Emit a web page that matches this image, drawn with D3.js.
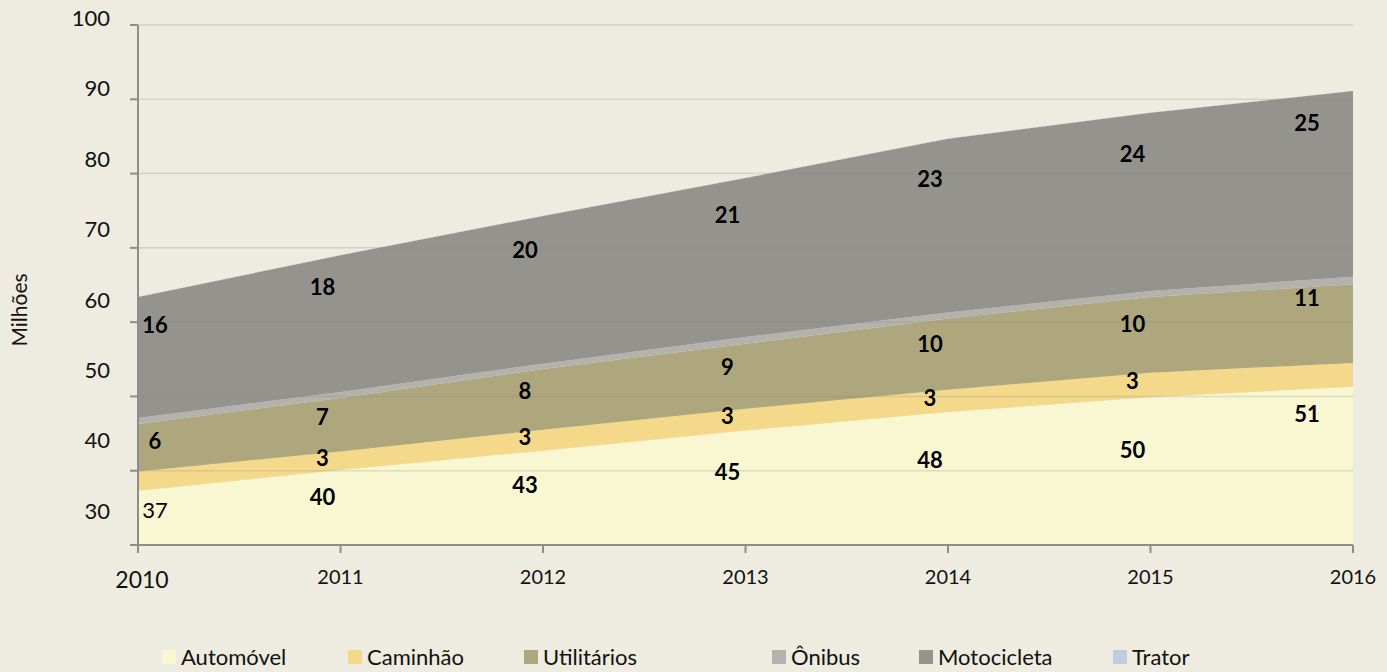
<!DOCTYPE html>
<html>
<head>
<meta charset="utf-8">
<script src="https://cdn.jsdelivr.net/npm/d3@7"></script>
<style>
  body { margin: 0; background: #eeebe0; }
  svg { display: block; font-family: Lato, "Open Sans", sans-serif; }
</style>
</head>
<body>
<svg id="chart" width="1387" height="672"></svg>
<script>
// values in millions
const years = [2010, 2011, 2012, 2013, 2014, 2015, 2016];
const automovel   = [37.3, 40.1, 42.7, 45.4, 47.9, 49.9, 51.3];
const caminhao    = [2.6, 2.5, 2.8, 2.95, 3.0, 3.3, 3.2];
const utilitarios = [6.4, 7.2, 8.2, 8.75, 9.6, 10.2, 10.6];
const onibus      = [0.8, 0.8, 0.7, 0.9, 0.8, 0.8, 1.0];
const motocicleta = [16.3, 18.4, 19.9, 21.4, 23.4, 24.0, 25.0];
const trator      = [0.03, 0.03, 0.03, 0.03, 0.03, 0.03, 0.03];

const seriesNames = ["Automóvel", "Caminhão", "Utilitários", "Ônibus", "Motocicleta", "Trator"];
const seriesValues = [automovel, caminhao, utilitarios, onibus, motocicleta, trator];
const yTicks = [100, 90, 80, 70, 60, 50, 40, 30];

// series that carry data labels, and labels left out of the original
const labelled = ["Automóvel", "Caminhão", "Utilitários", "Motocicleta"];
const hiddenLabels = ["Caminhão-2010", "Caminhão-2016"];

const colors = {
    "Automóvel": "#f8f7d1",
    "Caminhão": "#f5d98b",
    "Utilitários": "#aea67d",
    "Ônibus": "#b3b2ae",
    "Motocicleta": "#95938e",
    "Trator": "#c2cce0"
};

const svg = d3.select("#chart");
const plotLeft = 138, plotRight = 1353, plotTop = 25, plotBottom = 545;

const table = years.map((year, i) => {
    const row = { year };
    seriesNames.forEach((name, j) => { row[name] = seriesValues[j][i]; });
    return row;
});

const stacked = d3.stack().keys(seriesNames)(table);

const x = d3.scaleLinear().domain([2010, 2016]).range([plotLeft, plotRight]);
const y = d3.scaleLinear().domain([30, 100]).range([plotBottom, plotTop]);
// the tick labels in the picture sit on a slightly tighter spacing than the grid
const yLabel = d3.scaleLinear().domain([30, 100]).range([511, 18]);

svg.append("defs").append("clipPath").attr("id", "plot")
   .append("rect").attr("x", plotLeft).attr("y", plotTop)
   .attr("width", plotRight - plotLeft).attr("height", plotBottom - plotTop);

const area = d3.area()
    .x(d => x(d.data.year))
    .y0(d => y(d[0]))
    .y1(d => y(d[1]));

svg.append("g").attr("clip-path", "url(#plot)")
   .selectAll("path")
   .data(stacked)
   .enter().append("path")
   .attr("d", area)
   .attr("fill", d => colors[d.key]);

// gridlines, drawn over the areas
svg.append("g").selectAll("line")
   .data(yTicks.filter(t => t > 30))
   .enter().append("line")
   .attr("x1", plotLeft).attr("x2", plotRight)
   .attr("y1", d => y(d)).attr("y2", d => y(d))
   .attr("stroke", "#8a8a8a")
   .attr("stroke-opacity", 0.25)
   .attr("stroke-width", 1.5);

// y axis
const axisColor = "#8d8d8d";
svg.append("line")
   .attr("x1", plotLeft).attr("x2", plotLeft).attr("y1", plotTop).attr("y2", plotBottom + 8)
   .attr("stroke", axisColor).attr("stroke-width", 2);
svg.append("g").selectAll("line")
   .data(yTicks)
   .enter().append("line")
   .attr("x1", plotLeft - 8).attr("x2", plotLeft)
   .attr("y1", d => y(d)).attr("y2", d => y(d))
   .attr("stroke", axisColor).attr("stroke-width", 2);
svg.append("g").selectAll("text")
   .data(yTicks)
   .enter().append("text")
   .attr("x", 110)
   .attr("y", d => yLabel(d))
   .attr("dy", "0.36em")
   .attr("text-anchor", "end")
   .attr("font-size", 22)
   .attr("fill", "#111")
   .text(d => d);

svg.append("text")
   .attr("transform", "translate(27,310) rotate(-90)")
   .attr("text-anchor", "middle")
   .attr("font-size", 21)
   .attr("fill", "#111")
   .text("Milhões");

// x axis
svg.append("line")
   .attr("x1", plotLeft - 8).attr("x2", plotRight).attr("y1", plotBottom).attr("y2", plotBottom)
   .attr("stroke", axisColor).attr("stroke-width", 2);
svg.append("g").selectAll("line")
   .data(years)
   .enter().append("line")
   .attr("x1", d => x(d)).attr("x2", d => x(d))
   .attr("y1", plotBottom).attr("y2", plotBottom + 8)
   .attr("stroke", axisColor).attr("stroke-width", 2);
svg.append("g").selectAll("text")
   .data(years)
   .enter().append("text")
   .attr("x", d => d === 2010 ? x(d) + 4 : x(d))
   .attr("y", d => d === 2010 ? 580 : 577)
   .attr("dy", "0.36em")
   .attr("text-anchor", "middle")
   .attr("font-size", d => d === 2010 ? 23 : 20)
   .attr("fill", "#111")
   .text(d => d);

// data labels
const fmt = d3.format(".0f");
const labels = [];
stacked.filter(s => labelled.includes(s.key)).forEach(s => {
    s.forEach((d, i) => {
        const year = years[i];
        if (hiddenLabels.includes(s.key + "-" + year)) return;
        const lo = Math.max(d[0], 30), hi = d[1];
        const frac = i === years.length - 1 ? 0.17 : (s.key === "Motocicleta" ? 0.23 : 0.36);
        labels.push({
            x: Math.min(Math.max(x(year) - 18, plotLeft + 17), plotRight - 46),
            y: y(hi - frac * (hi - lo)),
            text: fmt(d[1] - d[0]),
            // the first car label is not bold in the original
            bold: !(s.key === "Automóvel" && i === 0)
        });
    });
});
svg.append("g").selectAll("text")
   .data(labels)
   .enter().append("text")
   .attr("x", d => d.x)
   .attr("y", d => d.y)
   .attr("dy", "0.36em")
   .attr("text-anchor", "middle")
   .attr("font-size", 22)
   .attr("font-weight", d => d.bold ? "bold" : "normal")
   .attr("fill", "#000")
   .text(d => d.text);

// legend
const legendX = [162, 348, 524, 772, 919, 1113];
const legend = svg.append("g").selectAll("g")
   .data(seriesNames)
   .enter().append("g")
   .attr("transform", (d, i) => `translate(${legendX[i]},657)`);
legend.append("rect")
   .attr("x", 0).attr("y", -7).attr("width", 14).attr("height", 14)
   .attr("fill", d => colors[d]);
legend.append("text")
   .attr("x", 19).attr("y", 0).attr("dy", "0.36em")
   .attr("font-size", 22)
   .attr("fill", "#111")
   .text(d => d);
</script>
</body>
</html>
